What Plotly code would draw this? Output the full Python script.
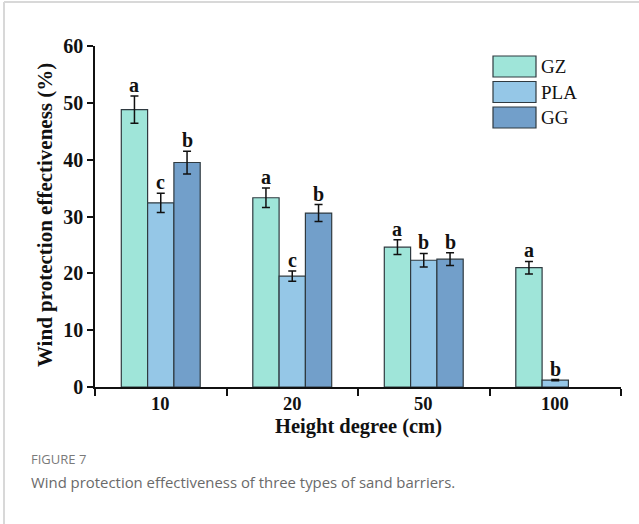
import plotly.graph_objects as go

# Data
heights = ["10", "20", "50", "100"]
series_names = ["GZ", "PLA", "GG"]
gz_vals = [48.8, 33.3, 24.6, 21.0]
pla_vals = [32.4, 19.5, 22.3, 1.2]
gg_vals = [39.5, 30.6, 22.5, None]
gz_err = [2.4, 1.7, 1.3, 1.1]
pla_err = [1.7, 0.9, 1.2, 0.1]
gg_err = [2.0, 1.5, 1.1, None]
gz_letters = ["a", "a", "a", "a"]
pla_letters = ["c", "c", "b", "b"]
gg_letters = ["b", "b", "b", None]
colors = ["#9fe5d9", "#95c7e7", "#729fca"]

values = [gz_vals, pla_vals, gg_vals]
errors = [gz_err, pla_err, gg_err]
letters = [gz_letters, pla_letters, gg_letters]

serif = "Liberation Serif, Times New Roman, serif"
ink = "#111111"
xpos = list(range(len(heights)))
bar_w = 0.2
offsets = [-bar_w, 0.0, bar_w]

fig = go.Figure()
for name, vals, errs, col in zip(series_names, values, errors, colors):
    fig.add_trace(go.Bar(
        x=xpos, y=vals, name=name,
        marker=dict(color=col, line=dict(color="#2f3a40", width=1.2)),
        error_y=dict(type="data", array=[e if e is not None else 0 for e in errs],
                     color=ink, thickness=1.5, width=4),
        showlegend=False,
    ))

# significance letters above error bars
for vals, errs, labs, off in zip(values, errors, letters, offsets):
    for i, (v, e, lab) in enumerate(zip(vals, errs, labs)):
        if v is None or lab is None:
            continue
        fig.add_annotation(x=i + off, y=v + e, text=lab, showarrow=False,
                           yanchor="bottom", yshift=-2,
                           font=dict(family=serif, size=20, color=ink, weight="bold"))


# pixel layout -> paper coords
def px(x):
    return (x - 95) / 526


def py(y):
    return (387 - y) / 341


# legend drawn as boxes with labels
leg_x0, leg_x1 = 493, 536
leg_tops = [56, 81.5, 107]
for name, col, top in zip(series_names, colors, leg_tops):
    fig.add_shape(type="rect", xref="paper", yref="paper",
                  x0=px(leg_x0), x1=px(leg_x1), y0=py(top), y1=py(top + 21),
                  fillcolor=col, line=dict(color="#2f3a40", width=1.2))
    fig.add_annotation(xref="paper", yref="paper", x=px(539), y=py(top + 10.5),
                       text=name, showarrow=False, xanchor="left", yanchor="middle",
                       font=dict(family=serif, size=19, color=ink))

# category labels under the axis
for i, h in enumerate(heights):
    fig.add_annotation(x=i, y=0, yref="y", text=h, showarrow=False,
                       yanchor="top", yshift=-5,
                       font=dict(family=serif, size=18.5, color=ink, weight="bold"))

# axis titles
fig.add_annotation(xref="paper", yref="paper", x=px(358), y=py(413),
                   text="Height degree (cm)", showarrow=False,
                   xanchor="center", yanchor="top",
                   font=dict(family=serif, size=20.5, color=ink, weight="bold"))
fig.add_annotation(xref="paper", yref="paper", x=px(45), y=py(215),
                   text="Wind protection effectiveness (%)", showarrow=False,
                   textangle=-90, xanchor="center", yanchor="middle",
                   font=dict(family=serif, size=21, color=ink, weight="bold"))

# caption
cap_font = "Open Sans, Noto Sans, sans-serif"
fig.add_annotation(xref="paper", yref="paper", x=px(29), y=py(459),
                   text="FIGURE 7", showarrow=False, xanchor="left", yanchor="middle",
                   font=dict(family=cap_font, size=13, color="#7a7a7a"))
fig.add_annotation(xref="paper", yref="paper", x=px(29), y=py(482),
                   text="Wind protection effectiveness of three types of sand barriers.",
                   showarrow=False, xanchor="left", yanchor="middle",
                   font=dict(family=cap_font, size=14.9, color="#6a6a6a"))

# page frame (top and left edge)
fig.add_shape(type="line", xref="paper", yref="paper",
              x0=px(4), x1=px(639), y0=py(2), y1=py(2),
              line=dict(color="#d8d8d8", width=2))
fig.add_shape(type="line", xref="paper", yref="paper",
              x0=px(4), x1=px(4), y0=py(2), y1=py(524),
              line=dict(color="#d8d8d8", width=2))

fig.update_layout(
    width=639, height=524,
    margin=dict(l=95, r=18, t=46, b=137),
    paper_bgcolor="white", plot_bgcolor="white",
    barmode="group", bargap=0.4, bargroupgap=0,
    font=dict(family=serif, color=ink),
)
fig.update_xaxes(
    range=[-0.5, 3.5], tickvals=xpos, ticktext=["", "", "", ""], ticks="",
    showline=True, linecolor=ink, linewidth=1.5, showgrid=False, zeroline=False,
    minor=dict(tick0=-0.5, dtick=1, ticks="outside", ticklen=7, tickwidth=1.5,
               tickcolor=ink, showgrid=False),
)
fig.update_yaxes(
    range=[0, 60], tickvals=[0, 10, 20, 30, 40, 50, 60], ticks="outside", ticklen=6,
    tickwidth=1.5, tickcolor=ink,
    tickfont=dict(family=serif, size=20, color=ink, weight="bold"),
    showline=True, linecolor=ink, linewidth=1.5, showgrid=False, zeroline=False,
)

fig.write_html("out.html")
